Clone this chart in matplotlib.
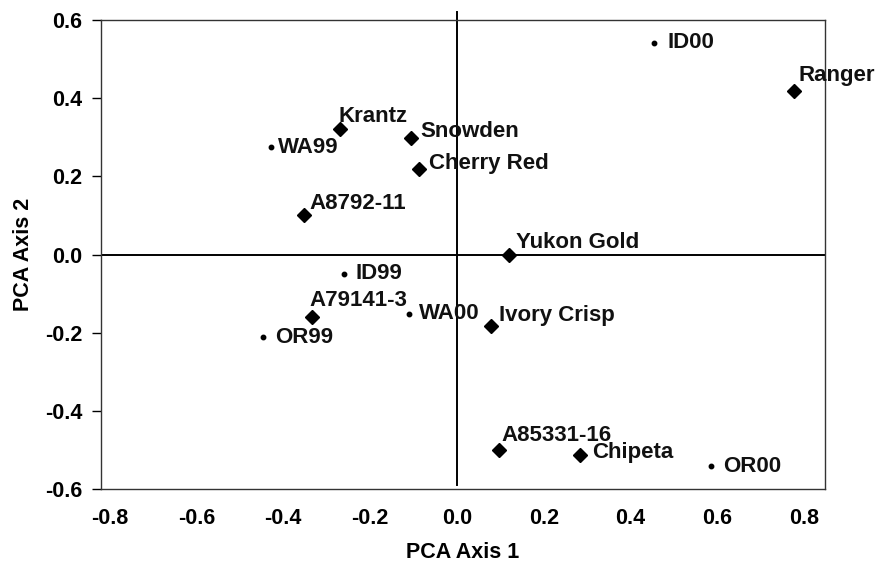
import matplotlib
matplotlib.use("Agg")
import matplotlib.pyplot as plt

# Cultivars (diamonds)
cult_names = ["Ranger", "Krantz", "Snowden", "Cherry Red", "A8792-11", "Yukon Gold",
              "A79141-3", "Ivory Crisp", "A85331-16", "Chipeta"]
cult_x = [0.777, -0.269, -0.106, -0.087, -0.352, 0.120, -0.333, 0.078, 0.097, 0.283]
cult_y = [0.419, 0.320, 0.299, 0.220, 0.100, 0.000, -0.161, -0.182, -0.501, -0.512]

# Environments (dots)
env_names = ["ID00", "WA99", "ID99", "WA00", "OR99", "OR00"]
env_x = [0.453, -0.428, -0.260, -0.110, -0.446, 0.586]
env_y = [0.542, 0.274, -0.049, -0.151, -0.212, -0.542]

x_ticks = [-0.8, -0.6, -0.4, -0.2, 0.0, 0.2, 0.4, 0.6, 0.8]
y_ticks = [-0.6, -0.4, -0.2, 0.0, 0.2, 0.4, 0.6]

# label offsets in points (layout only)
cult_off = [(3, 11), (-1, 9.5), (6.5, 4.5), (7, 3.5), (3.5, 8.5), (5, 8.5),
            (-2, 12), (6, 7), (1.5, 11), (9, 1.5)]
env_off = [(10, 0), (5, 0), (8.5, 0), (7, 0), (8.5, 0), (8.5, 0)]

plt.rcParams['font.family'] = ['Liberation Sans', 'DejaVu Sans']
plt.rcParams['font.weight'] = 'bold'

fig = plt.figure(figsize=(8.81, 5.63), dpi=100)
ax = fig.add_axes([0.1146, 0.1314, 0.8218, 0.8331])

ax.axhline(0, color='black', lw=1.4, zorder=1)
ax.axvline(0, ymin=0.008, ymax=1.018, color='black', lw=1.4, zorder=1, clip_on=False)

ax.plot(cult_x, cult_y, linestyle='none', marker='D', markersize=7.5,
        color='black', zorder=3)
ax.plot(env_x, env_y, linestyle='none', marker='o', markersize=3.2,
        color='black', zorder=3)

fs = 16
for n, x, y, o in zip(cult_names, cult_x, cult_y, cult_off):
    ax.annotate(n, (x, y), xytext=o, textcoords='offset points',
                ha='left', va='center', fontsize=fs, fontweight='bold', color='#111111')
for n, x, y, o in zip(env_names, env_x, env_y, env_off):
    ax.annotate(n, (x, y), xytext=o, textcoords='offset points',
                ha='left', va='center', fontsize=fs, fontweight='bold', color='#111111')

ax.set_xlim(-0.82, 0.848)
ax.set_ylim(-0.6, 0.6)
ax.set_xticks(x_ticks)
ax.set_xticklabels([f"{v:.1f}" for v in x_ticks])
ax.set_yticks(y_ticks)
ax.set_yticklabels([f"{v:.1f}" for v in y_ticks])
ax.tick_params(axis='x', length=0, pad=14, labelsize=15.5)
ax.tick_params(axis='y', length=6.5, width=1, direction='out', pad=7, labelsize=15.5)
for s in ax.spines.values():
    s.set_linewidth(1.0)
    s.set_color('#333333')

ax.set_xlabel("PCA Axis 1", fontsize=15.5, fontweight='bold', labelpad=9)
ax.set_ylabel("PCA Axis 2", fontsize=15.5, fontweight='bold', labelpad=8)

fig.savefig("out.png", dpi=100)
